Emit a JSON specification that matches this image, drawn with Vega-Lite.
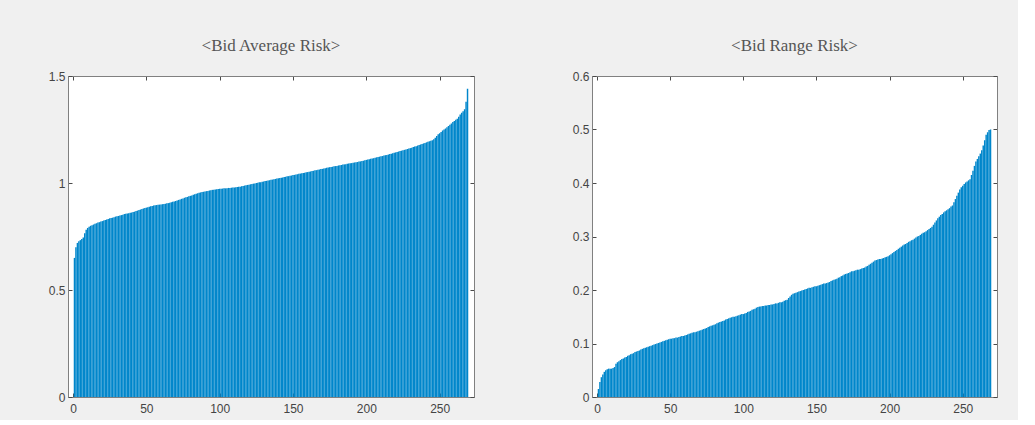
{
"$schema": "https://vega.github.io/schema/vega-lite/v6.json",
"background": "#f0f0f0",
"padding": {"left": 47, "top": 36, "right": 20, "bottom": 5},
"bounds": "flush",
"spacing": 118,
"datasets": {
"avg": [{"i":1,"v":0.65},{"i":2,"v":0.70},{"i":3,"v":0.72},{"i":4,"v":0.728},{"i":5,"v":0.733},{"i":6,"v":0.738},{"i":7,"v":0.745},{"i":8,"v":0.765},{"i":9,"v":0.782},{"i":10,"v":0.790},
{"i":11,"v":0.795},{"i":12,"v":0.800},{"i":13,"v":0.803},{"i":14,"v":0.806},{"i":15,"v":0.810},{"i":16,"v":0.812},{"i":17,"v":0.815},{"i":18,"v":0.817},{"i":19,"v":0.820},{"i":20,"v":0.822},
{"i":21,"v":0.825},{"i":22,"v":0.827},{"i":23,"v":0.829},{"i":24,"v":0.832},{"i":25,"v":0.835},{"i":26,"v":0.836},{"i":27,"v":0.838},{"i":28,"v":0.840},{"i":29,"v":0.843},{"i":30,"v":0.845},
{"i":31,"v":0.846},{"i":32,"v":0.848},{"i":33,"v":0.850},{"i":34,"v":0.852},{"i":35,"v":0.855},{"i":36,"v":0.856},{"i":37,"v":0.858},{"i":38,"v":0.859},{"i":39,"v":0.861},{"i":40,"v":0.862},
{"i":41,"v":0.864},{"i":42,"v":0.866},{"i":43,"v":0.869},{"i":44,"v":0.871},{"i":45,"v":0.874},{"i":46,"v":0.876},{"i":47,"v":0.879},{"i":48,"v":0.881},{"i":49,"v":0.883},{"i":50,"v":0.885},
{"i":51,"v":0.887},{"i":52,"v":0.889},{"i":53,"v":0.891},{"i":54,"v":0.893},{"i":55,"v":0.895},{"i":56,"v":0.896},{"i":57,"v":0.897},{"i":58,"v":0.898},{"i":59,"v":0.899},{"i":60,"v":0.900},
{"i":61,"v":0.901},{"i":62,"v":0.902},{"i":63,"v":0.903},{"i":64,"v":0.905},{"i":65,"v":0.906},{"i":66,"v":0.908},{"i":67,"v":0.910},{"i":68,"v":0.912},{"i":69,"v":0.914},{"i":70,"v":0.916},
{"i":71,"v":0.918},{"i":72,"v":0.921},{"i":73,"v":0.923},{"i":74,"v":0.926},{"i":75,"v":0.928},{"i":76,"v":0.931},{"i":77,"v":0.933},{"i":78,"v":0.935},{"i":79,"v":0.938},{"i":80,"v":0.940},
{"i":81,"v":0.942},{"i":82,"v":0.945},{"i":83,"v":0.947},{"i":84,"v":0.950},{"i":85,"v":0.952},{"i":86,"v":0.955},{"i":87,"v":0.956},{"i":88,"v":0.958},{"i":89,"v":0.959},{"i":90,"v":0.960},
{"i":91,"v":0.962},{"i":92,"v":0.963},{"i":93,"v":0.965},{"i":94,"v":0.966},{"i":95,"v":0.968},{"i":96,"v":0.969},{"i":97,"v":0.970},{"i":98,"v":0.971},{"i":99,"v":0.972},{"i":100,"v":0.973},
{"i":101,"v":0.973},{"i":102,"v":0.974},{"i":103,"v":0.975},{"i":104,"v":0.975},{"i":105,"v":0.976},{"i":106,"v":0.977},{"i":107,"v":0.977},{"i":108,"v":0.978},{"i":109,"v":0.979},{"i":110,"v":0.979},
{"i":111,"v":0.980},{"i":112,"v":0.981},{"i":113,"v":0.982},{"i":114,"v":0.983},{"i":115,"v":0.985},{"i":116,"v":0.986},{"i":117,"v":0.988},{"i":118,"v":0.989},{"i":119,"v":0.991},{"i":120,"v":0.992},
{"i":121,"v":0.994},{"i":122,"v":0.995},{"i":123,"v":0.997},{"i":124,"v":0.998},{"i":125,"v":1.000},{"i":126,"v":1.001},{"i":127,"v":1.003},{"i":128,"v":1.004},{"i":129,"v":1.006},{"i":130,"v":1.007},
{"i":131,"v":1.009},{"i":132,"v":1.010},{"i":133,"v":1.012},{"i":134,"v":1.013},{"i":135,"v":1.015},{"i":136,"v":1.016},{"i":137,"v":1.018},{"i":138,"v":1.019},{"i":139,"v":1.021},{"i":140,"v":1.022},
{"i":141,"v":1.023},{"i":142,"v":1.025},{"i":143,"v":1.026},{"i":144,"v":1.028},{"i":145,"v":1.029},{"i":146,"v":1.031},{"i":147,"v":1.032},{"i":148,"v":1.034},{"i":149,"v":1.035},{"i":150,"v":1.037},
{"i":151,"v":1.038},{"i":152,"v":1.040},{"i":153,"v":1.041},{"i":154,"v":1.043},{"i":155,"v":1.044},{"i":156,"v":1.046},{"i":157,"v":1.047},{"i":158,"v":1.048},{"i":159,"v":1.050},{"i":160,"v":1.051},
{"i":161,"v":1.053},{"i":162,"v":1.054},{"i":163,"v":1.056},{"i":164,"v":1.057},{"i":165,"v":1.059},{"i":166,"v":1.060},{"i":167,"v":1.062},{"i":168,"v":1.063},{"i":169,"v":1.065},{"i":170,"v":1.066},
{"i":171,"v":1.068},{"i":172,"v":1.069},{"i":173,"v":1.071},{"i":174,"v":1.072},{"i":175,"v":1.074},{"i":176,"v":1.075},{"i":177,"v":1.076},{"i":178,"v":1.078},{"i":179,"v":1.079},{"i":180,"v":1.080},
{"i":181,"v":1.082},{"i":182,"v":1.083},{"i":183,"v":1.084},{"i":184,"v":1.086},{"i":185,"v":1.087},{"i":186,"v":1.088},{"i":187,"v":1.090},{"i":188,"v":1.091},{"i":189,"v":1.092},{"i":190,"v":1.093},
{"i":191,"v":1.095},{"i":192,"v":1.096},{"i":193,"v":1.097},{"i":194,"v":1.098},{"i":195,"v":1.100},{"i":196,"v":1.101},{"i":197,"v":1.103},{"i":198,"v":1.104},{"i":199,"v":1.106},{"i":200,"v":1.108},
{"i":201,"v":1.110},{"i":202,"v":1.111},{"i":203,"v":1.113},{"i":204,"v":1.115},{"i":205,"v":1.116},{"i":206,"v":1.118},{"i":207,"v":1.120},{"i":208,"v":1.121},{"i":209,"v":1.123},{"i":210,"v":1.125},
{"i":211,"v":1.126},{"i":212,"v":1.128},{"i":213,"v":1.130},{"i":214,"v":1.131},{"i":215,"v":1.133},{"i":216,"v":1.135},{"i":217,"v":1.137},{"i":218,"v":1.139},{"i":219,"v":1.141},{"i":220,"v":1.143},
{"i":221,"v":1.145},{"i":222,"v":1.147},{"i":223,"v":1.149},{"i":224,"v":1.151},{"i":225,"v":1.153},{"i":226,"v":1.155},{"i":227,"v":1.157},{"i":228,"v":1.159},{"i":229,"v":1.161},{"i":230,"v":1.163},
{"i":231,"v":1.165},{"i":232,"v":1.168},{"i":233,"v":1.170},{"i":234,"v":1.172},{"i":235,"v":1.175},{"i":236,"v":1.177},{"i":237,"v":1.180},{"i":238,"v":1.182},{"i":239,"v":1.185},{"i":240,"v":1.187},
{"i":241,"v":1.190},{"i":242,"v":1.193},{"i":243,"v":1.195},{"i":244,"v":1.198},{"i":245,"v":1.200},{"i":246,"v":1.205},{"i":247,"v":1.212},{"i":248,"v":1.220},{"i":249,"v":1.228},{"i":250,"v":1.232},
{"i":251,"v":1.238},{"i":252,"v":1.245},{"i":253,"v":1.250},{"i":254,"v":1.255},{"i":255,"v":1.260},{"i":256,"v":1.266},{"i":257,"v":1.272},{"i":258,"v":1.278},{"i":259,"v":1.285},{"i":260,"v":1.290},
{"i":261,"v":1.295},{"i":262,"v":1.300},{"i":263,"v":1.310},{"i":264,"v":1.320},{"i":265,"v":1.328},{"i":266,"v":1.335},{"i":267,"v":1.345},{"i":268,"v":1.380},{"i":269,"v":1.440}],
"rng": [{"i":1,"v":0.015},{"i":2,"v":0.028},{"i":3,"v":0.037},{"i":4,"v":0.042},{"i":5,"v":0.047},{"i":6,"v":0.050},{"i":7,"v":0.052},{"i":8,"v":0.053},{"i":9,"v":0.053},{"i":10,"v":0.053},
{"i":11,"v":0.054},{"i":12,"v":0.056},{"i":13,"v":0.062},{"i":14,"v":0.065},{"i":15,"v":0.067},{"i":16,"v":0.069},{"i":17,"v":0.071},{"i":18,"v":0.072},{"i":19,"v":0.074},{"i":20,"v":0.075},
{"i":21,"v":0.077},{"i":22,"v":0.078},{"i":23,"v":0.080},{"i":24,"v":0.081},{"i":25,"v":0.082},{"i":26,"v":0.084},{"i":27,"v":0.085},{"i":28,"v":0.086},{"i":29,"v":0.087},{"i":30,"v":0.089},
{"i":31,"v":0.090},{"i":32,"v":0.091},{"i":33,"v":0.092},{"i":34,"v":0.093},{"i":35,"v":0.094},{"i":36,"v":0.095},{"i":37,"v":0.096},{"i":38,"v":0.097},{"i":39,"v":0.098},{"i":40,"v":0.099},
{"i":41,"v":0.100},{"i":42,"v":0.101},{"i":43,"v":0.102},{"i":44,"v":0.103},{"i":45,"v":0.104},{"i":46,"v":0.105},{"i":47,"v":0.106},{"i":48,"v":0.107},{"i":49,"v":0.108},{"i":50,"v":0.109},
{"i":51,"v":0.109},{"i":52,"v":0.110},{"i":53,"v":0.110},{"i":54,"v":0.111},{"i":55,"v":0.111},{"i":56,"v":0.112},{"i":57,"v":0.113},{"i":58,"v":0.114},{"i":59,"v":0.114},{"i":60,"v":0.115},
{"i":61,"v":0.116},{"i":62,"v":0.117},{"i":63,"v":0.118},{"i":64,"v":0.119},{"i":65,"v":0.120},{"i":66,"v":0.121},{"i":67,"v":0.121},{"i":68,"v":0.122},{"i":69,"v":0.123},{"i":70,"v":0.124},
{"i":71,"v":0.125},{"i":72,"v":0.126},{"i":73,"v":0.127},{"i":74,"v":0.128},{"i":75,"v":0.129},{"i":76,"v":0.131},{"i":77,"v":0.132},{"i":78,"v":0.133},{"i":79,"v":0.134},{"i":80,"v":0.135},
{"i":81,"v":0.136},{"i":82,"v":0.138},{"i":83,"v":0.139},{"i":84,"v":0.140},{"i":85,"v":0.141},{"i":86,"v":0.142},{"i":87,"v":0.143},{"i":88,"v":0.145},{"i":89,"v":0.146},{"i":90,"v":0.147},
{"i":91,"v":0.148},{"i":92,"v":0.149},{"i":93,"v":0.150},{"i":94,"v":0.150},{"i":95,"v":0.151},{"i":96,"v":0.152},{"i":97,"v":0.153},{"i":98,"v":0.154},{"i":99,"v":0.155},{"i":100,"v":0.155},
{"i":101,"v":0.156},{"i":102,"v":0.157},{"i":103,"v":0.159},{"i":104,"v":0.160},{"i":105,"v":0.161},{"i":106,"v":0.163},{"i":107,"v":0.164},{"i":108,"v":0.165},{"i":109,"v":0.167},{"i":110,"v":0.168},
{"i":111,"v":0.169},{"i":112,"v":0.169},{"i":113,"v":0.170},{"i":114,"v":0.170},{"i":115,"v":0.171},{"i":116,"v":0.171},{"i":117,"v":0.172},{"i":118,"v":0.172},{"i":119,"v":0.173},{"i":120,"v":0.173},
{"i":121,"v":0.174},{"i":122,"v":0.175},{"i":123,"v":0.175},{"i":124,"v":0.176},{"i":125,"v":0.177},{"i":126,"v":0.177},{"i":127,"v":0.178},{"i":128,"v":0.180},{"i":129,"v":0.181},{"i":130,"v":0.182},
{"i":131,"v":0.185},{"i":132,"v":0.188},{"i":133,"v":0.191},{"i":134,"v":0.193},{"i":135,"v":0.194},{"i":136,"v":0.195},{"i":137,"v":0.196},{"i":138,"v":0.197},{"i":139,"v":0.198},{"i":140,"v":0.199},
{"i":141,"v":0.200},{"i":142,"v":0.201},{"i":143,"v":0.202},{"i":144,"v":0.203},{"i":145,"v":0.204},{"i":146,"v":0.204},{"i":147,"v":0.205},{"i":148,"v":0.206},{"i":149,"v":0.207},{"i":150,"v":0.207},
{"i":151,"v":0.208},{"i":152,"v":0.209},{"i":153,"v":0.210},{"i":154,"v":0.211},{"i":155,"v":0.212},{"i":156,"v":0.212},{"i":157,"v":0.213},{"i":158,"v":0.214},{"i":159,"v":0.215},{"i":160,"v":0.217},
{"i":161,"v":0.218},{"i":162,"v":0.219},{"i":163,"v":0.220},{"i":164,"v":0.221},{"i":165,"v":0.223},{"i":166,"v":0.224},{"i":167,"v":0.226},{"i":168,"v":0.227},{"i":169,"v":0.229},{"i":170,"v":0.230},
{"i":171,"v":0.231},{"i":172,"v":0.232},{"i":173,"v":0.233},{"i":174,"v":0.235},{"i":175,"v":0.235},{"i":176,"v":0.236},{"i":177,"v":0.237},{"i":178,"v":0.238},{"i":179,"v":0.238},{"i":180,"v":0.239},
{"i":181,"v":0.240},{"i":182,"v":0.241},{"i":183,"v":0.242},{"i":184,"v":0.244},{"i":185,"v":0.245},{"i":186,"v":0.247},{"i":187,"v":0.249},{"i":188,"v":0.251},{"i":189,"v":0.253},{"i":190,"v":0.255},
{"i":191,"v":0.256},{"i":192,"v":0.257},{"i":193,"v":0.258},{"i":194,"v":0.258},{"i":195,"v":0.259},{"i":196,"v":0.260},{"i":197,"v":0.261},{"i":198,"v":0.262},{"i":199,"v":0.263},{"i":200,"v":0.265},
{"i":201,"v":0.267},{"i":202,"v":0.269},{"i":203,"v":0.271},{"i":204,"v":0.273},{"i":205,"v":0.275},{"i":206,"v":0.277},{"i":207,"v":0.279},{"i":208,"v":0.281},{"i":209,"v":0.283},{"i":210,"v":0.285},
{"i":211,"v":0.286},{"i":212,"v":0.288},{"i":213,"v":0.290},{"i":214,"v":0.291},{"i":215,"v":0.293},{"i":216,"v":0.294},{"i":217,"v":0.296},{"i":218,"v":0.298},{"i":219,"v":0.300},{"i":220,"v":0.301},
{"i":221,"v":0.303},{"i":222,"v":0.305},{"i":223,"v":0.307},{"i":224,"v":0.308},{"i":225,"v":0.310},{"i":226,"v":0.312},{"i":227,"v":0.314},{"i":228,"v":0.316},{"i":229,"v":0.318},{"i":230,"v":0.322},
{"i":231,"v":0.326},{"i":232,"v":0.330},{"i":233,"v":0.334},{"i":234,"v":0.337},{"i":235,"v":0.340},{"i":236,"v":0.342},{"i":237,"v":0.345},{"i":238,"v":0.347},{"i":239,"v":0.349},{"i":240,"v":0.351},
{"i":241,"v":0.353},{"i":242,"v":0.356},{"i":243,"v":0.358},{"i":244,"v":0.364},{"i":245,"v":0.370},{"i":246,"v":0.376},{"i":247,"v":0.382},{"i":248,"v":0.388},{"i":249,"v":0.392},{"i":250,"v":0.395},
{"i":251,"v":0.398},{"i":252,"v":0.401},{"i":253,"v":0.403},{"i":254,"v":0.405},{"i":255,"v":0.407},{"i":256,"v":0.415},{"i":257,"v":0.423},{"i":258,"v":0.432},{"i":259,"v":0.440},{"i":260,"v":0.445},
{"i":261,"v":0.450},{"i":262,"v":0.455},{"i":263,"v":0.461},{"i":264,"v":0.470},{"i":265,"v":0.480},{"i":266,"v":0.490},{"i":267,"v":0.495},{"i":268,"v":0.499},{"i":269,"v":0.500}]
},
"hconcat": [
{
"width": 406, "height": 321,
"title": {"text": "<Bid Average Risk>"},
"data": {"name": "avg"},
"layer": [
{"mark": {"type": "bar", "orient": "vertical", "size": 1.45, "color": "#0086cb"},
 "encoding": {
  "x": {"field": "i", "type": "quantitative", "scale": {"domain": [0, 270], "nice": false}, "axis": {"orient": "bottom", "values": [0, 50, 100, 150, 200, 250], "title": null}},
  "y": {"field": "v", "type": "quantitative", "stack": null, "scale": {"domain": [0, 1.5], "nice": false}, "axis": {"orient": "left", "values": [0, 0.5, 1, 1.5], "format": "~g", "title": null}}
 }},
{"mark": {"type": "point", "opacity": 0},
 "encoding": {
  "x": {"field": "i", "type": "quantitative", "axis": {"orient": "top", "values": [0, 50, 100, 150, 200, 250], "labels": false, "title": null}},
  "y": {"field": "v", "type": "quantitative", "axis": {"orient": "right", "values": [0, 0.5, 1, 1.5], "labels": false, "title": null}}
 }}
]
},
{
"width": 405, "height": 321,
"title": {"text": "<Bid Range Risk>"},
"data": {"name": "rng"},
"layer": [
{"mark": {"type": "bar", "orient": "vertical", "size": 1.45, "color": "#0086cb"},
 "encoding": {
  "x": {"field": "i", "type": "quantitative", "scale": {"domain": [0, 270], "nice": false}, "axis": {"orient": "bottom", "values": [0, 50, 100, 150, 200, 250], "title": null}},
  "y": {"field": "v", "type": "quantitative", "stack": null, "scale": {"domain": [0, 0.6], "nice": false}, "axis": {"orient": "left", "values": [0, 0.1, 0.2, 0.3, 0.4, 0.5, 0.6], "format": "~g", "title": null}}
 }},
{"mark": {"type": "point", "opacity": 0},
 "encoding": {
  "x": {"field": "i", "type": "quantitative", "axis": {"orient": "top", "values": [0, 50, 100, 150, 200, 250], "labels": false, "title": null}},
  "y": {"field": "v", "type": "quantitative", "axis": {"orient": "right", "values": [0, 0.1, 0.2, 0.3, 0.4, 0.5, 0.6], "labels": false, "title": null}}
 }}
]
}
],
"config": {
 "view": {"stroke": "#808080", "strokeWidth": 1, "fill": "white"},
 "axis": {"grid": false, "domainColor": "#808080", "domainWidth": 1, "tickColor": "#4a4a4a", "tickSize": -4, "tickWidth": 1, "labelFont": "Liberation Sans", "labelFontSize": 12, "labelColor": "#444444"},
 "axisX": {"labelPadding": 10},
 "axisY": {"labelPadding": 7},
 "title": {"font": "Liberation Serif", "fontSize": 17, "fontWeight": "normal", "color": "#555555", "anchor": "middle", "offset": 15}
}
}
